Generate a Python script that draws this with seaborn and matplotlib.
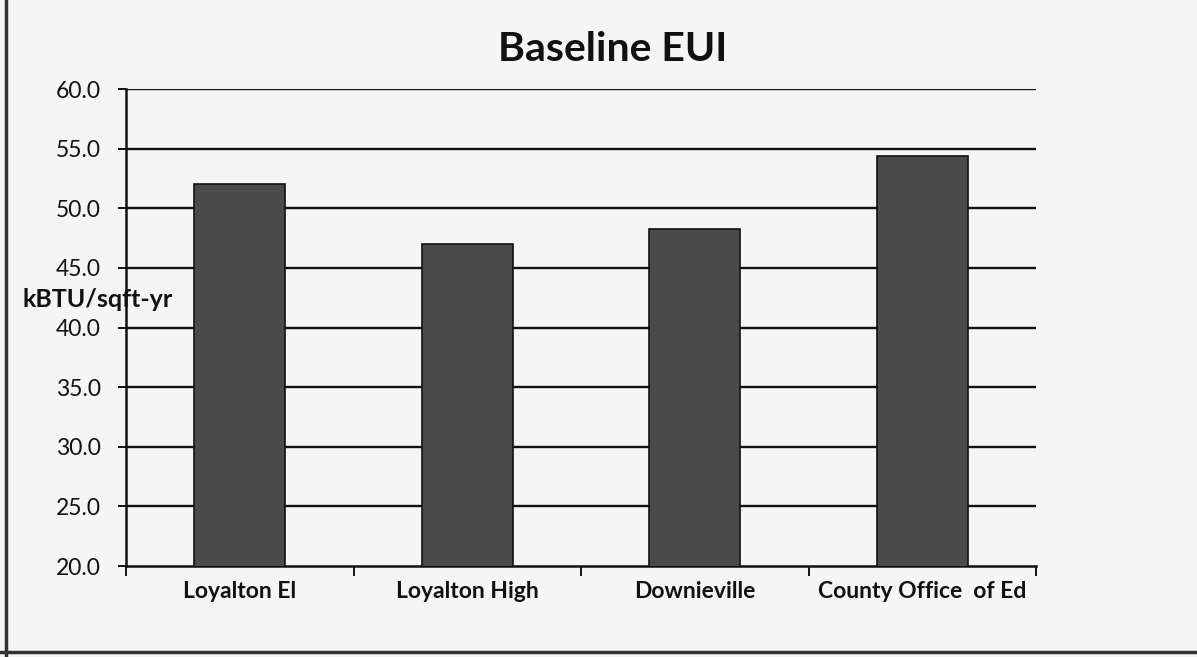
import matplotlib
matplotlib.use("Agg")
import matplotlib.pyplot as plt
import seaborn as sns
import pandas as pd
import numpy as np
from matplotlib.lines import Line2D

categories = ["Loyalton El", "Loyalton High", "Downieville", "County Office  of Ed"]
eui_values = [52.0, 47.0, 48.3, 54.4]
y_ticks = [20.0, 25.0, 30.0, 35.0, 40.0, 45.0, 50.0, 55.0, 60.0]

sns.set_theme(style="white")
plt.rcParams['font.family'] = ['Lato', 'DejaVu Sans']

df = pd.DataFrame({"site": categories, "eui": eui_values})

fig = plt.figure(figsize=(11.97, 6.57), dpi=100)
fig.patch.set_facecolor("#f5f5f5")
ax = fig.add_axes([0.1053, 0.1385, 0.7602, 0.726])
ax.set_facecolor("#f5f5f5")

sns.barplot(data=df, x="site", y="eui", color="#4a4a4a", width=0.4,
            edgecolor="#111111", linewidth=1.2, saturation=1, ax=ax, zorder=3)

ax.set_ylim(20, 60)
ax.set_xlim(-0.5, 3.5)
ax.set_yticks(y_ticks)
ax.set_yticklabels([f"{v:.1f}" for v in y_ticks], fontsize=16.5, color="#111111")
for v in y_ticks[1:]:
    ax.axhline(v, color="#111111", linewidth=1.7, zorder=1)

ax.set_xticks(range(len(categories)))
ax.set_xticklabels(categories, fontsize=16.5, fontweight="bold", color="#111111")
ax.tick_params(axis="x", which="major", length=0, pad=11)
ax.set_xticks(np.arange(-0.5, 4.0, 1.0), minor=True)
ax.tick_params(axis="x", which="minor", length=7, width=1.4, color="#111111", direction="out", bottom=True)
ax.tick_params(axis="y", length=6, width=1.4, color="#111111", direction="out", left=True, pad=12)

for s in ["top", "right"]:
    ax.spines[s].set_visible(False)
for s in ["left", "bottom"]:
    ax.spines[s].set_color("#111111")
    ax.spines[s].set_linewidth(1.8)

ax.set_xlabel("")
ax.set_ylabel("")
fig.text(23 / 1197, 1 - 307 / 657, "kBTU/sqft-yr", ha="left", va="baseline",
         fontsize=18, fontweight="bold", color="#111111")

fig.text(0.5117, 1 - 61 / 657, "Baseline EUI", ha="center", va="baseline",
         fontsize=29.5, fontweight="bold", color="#111111")

fig.add_artist(Line2D([0.005, 0.005], [0.0, 1.0], color="#333333", linewidth=2.5, transform=fig.transFigure))
fig.add_artist(Line2D([0.0, 1.0], [0.007, 0.007], color="#333333", linewidth=2.5, transform=fig.transFigure))

fig.savefig("out.png", dpi=100, facecolor=fig.get_facecolor())
